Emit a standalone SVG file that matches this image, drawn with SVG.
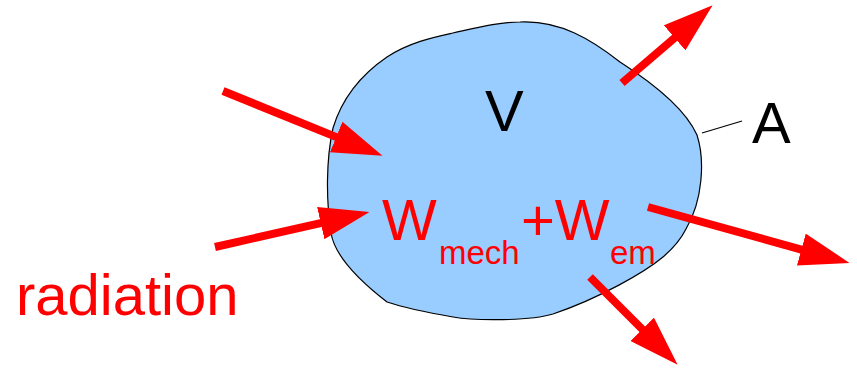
<svg xmlns="http://www.w3.org/2000/svg" width="857" height="368" viewBox="0 0 857 368">
<style>
.big{font-family:"Liberation Sans",Arial,sans-serif;font-size:58px}
.sub{font-family:"Liberation Sans",Arial,sans-serif;font-size:33px}
.red{fill:#ff0000}
.blk{fill:#000000}
.arrow{stroke:#ff0000;stroke-width:8;fill:none;stroke-linecap:butt;marker-end:url(#head)}
</style>
<defs>
<marker id="head" markerUnits="userSpaceOnUse" viewBox="0 0 50 33" markerWidth="50" markerHeight="33" refX="1" refY="16.5" orient="auto">
<path d="M0,0 L50,16.5 L0,33 Z" fill="#ff0000"/>
</marker>
</defs>
<rect width="857" height="368" fill="#ffffff"/>
<g id="volume">
<path d="M520,22 C560,20 592,40 620,62 C648,80 685,108 697,135 C705,160 703,200 686,229 C679,243 670,251 663,257 C645,272 600,298 553,314 C530,321 475,321 453,317 C430,313 405,308 387,302 C365,285 335,258 331,233 C326,200 326,160 333,128 C343,95 365,72 387,57 C410,42 435,37 453,33 C480,27 500,22 520,22 Z" fill="#99ccff" stroke="#000000" stroke-width="1.2"/>
<text class="big blk" x="485" y="131">V</text>
</g>
<g id="surface">
<line x1="702" y1="133" x2="742" y2="121" stroke="#000000" stroke-width="1.2"/>
<text class="big blk" x="752" y="143">A</text>
</g>
<g id="connectors">
<line class="arrow" x1="223" y1="91" x2="337.1" y2="137.4"/>
<line class="arrow" x1="215" y1="247" x2="321.7" y2="222.9"/>
<line class="arrow" x1="622" y1="83" x2="675.4" y2="37.2"/>
<line class="arrow" x1="648" y1="207" x2="802.3" y2="249.8"/>
<line class="arrow" x1="590" y1="277" x2="643" y2="330"/>
</g>
<g id="energy">
<text class="red"><tspan class="big" x="382" y="240">W</tspan><tspan class="sub" x="439" y="264">mech</tspan><tspan class="big" x="521" y="240">+W</tspan><tspan class="sub" x="610" y="264">em</tspan></text>
</g>
<g id="radiation">
<text class="big red" x="16" y="315">radiation</text>
</g>
</svg>
